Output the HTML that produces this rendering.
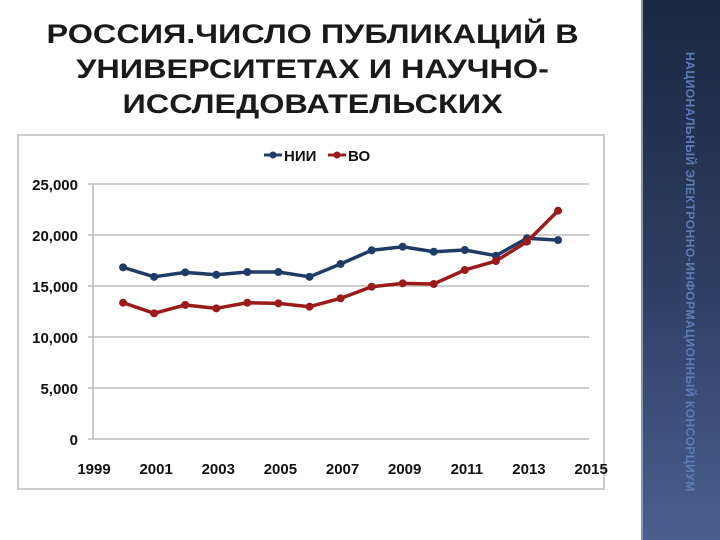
<!DOCTYPE html>
<html><head><meta charset="utf-8"><style>
body{margin:0;width:720px;height:540px;background:#fff;position:relative;overflow:hidden;font-family:"Liberation Sans",sans-serif}
#title{position:absolute;left:0;top:17px;width:625px;text-align:center;font-weight:bold;font-size:27px;line-height:35px;color:#1a1a1a;transform:scaleX(1.2);transform-origin:312px 0}
#side{position:absolute;left:641px;top:0;width:79px;height:540px;background:linear-gradient(180deg,#1a2740 0%,#2c3d62 50%,#4a5f8f 100%);border-left:2px solid #8a96b0}
#side span{position:absolute;left:40px;top:52px;writing-mode:vertical-rl;font-size:12px;font-weight:bold;color:#5d7bb5;white-space:nowrap;letter-spacing:0.5px}
</style></head><body>
<div id="title">РОССИЯ.ЧИСЛО ПУБЛИКАЦИЙ В<br>УНИВЕРСИТЕТАХ И НАУЧНО-<br>ИССЛЕДОВАТЕЛЬСКИХ</div>
<div id="side"><span>НАЦИОНАЛЬНЫЙ ЭЛЕКТРОННО-ИНФОРМАЦИОННЫЙ КОНСОРЦИУМ</span></div>
<svg id="chart" width="720" height="540" style="position:absolute;left:0;top:0"></svg>
<script>
const years=[2000,2001,2002,2003,2004,2005,2006,2007,2008,2009,2010,2011,2012,2013,2014];
const nii=[16830,15900,16340,16100,16370,16370,15900,17160,18500,18850,18360,18530,17970,19680,19500];
const vo=[13360,12320,13140,12810,13360,13300,12970,13790,14930,15260,15200,16570,17450,19340,22380];
const yTicks=[0,5000,10000,15000,20000,25000];
const xTicks=[1999,2001,2003,2005,2007,2009,2011,2013,2015];
const NS="http://www.w3.org/2000/svg";
const svg=document.getElementById('chart');
const X=v=>92+(v-1999)*31.07;
const Y=v=>439-v*(439-184)/25000;
function mk(t,a,p){const e=document.createElementNS(NS,t);for(const k in a)e.setAttribute(k,a[k]);(p||svg).appendChild(e);return e;}
const box=mk('rect',{x:18,y:135,width:586,height:354,fill:'#fff',stroke:'#bbb','stroke-width':1.5});


yTicks.forEach(v=>{
 if(v>0){const g=mk('line',{x1:88,x2:589,y1:Y(v),y2:Y(v),stroke:'#bdbdbd','stroke-width':1.5});
 
 }
 const t=mk('text',{x:78,y:Y(v)+6,'text-anchor':'end','font-size':15,'font-weight':'bold',fill:'#111'});
 t.textContent=v.toLocaleString('en-US');
 
 
});
const ax=mk('line',{x1:93,x2:93,y1:184,y2:439,stroke:'#bbb','stroke-width':1.5});


const bx=mk('line',{x1:88,x2:589,y1:439,y2:439,stroke:'#bbb','stroke-width':1.5});


xTicks.forEach(v=>{
 const t=mk('text',{x:X(v)+2,y:474,'text-anchor':'middle','font-size':15,'font-weight':'bold',fill:'#111'});
 t.textContent=v;
 
 
});
function series(vals,color,name){
 const g=mk('g',{});
 
 
 mk('polyline',{points:years.map((y,i)=>X(y)+','+Y(vals[i])).join(' '),fill:'none',stroke:color,'stroke-width':3.5,'stroke-linejoin':'round'},g);
 years.forEach((y,i)=>{const c=mk('circle',{cx:X(y),cy:Y(vals[i]),r:4,fill:color},g);
 
 });
}
series(nii,'#1f3c66','series-nii');
series(vo,'#9b1b1b','series-vo');
function leg(x,color,label){
 const g=mk('g',{});
 
 
 mk('line',{x1:x,x2:x+18,y1:155,y2:155,stroke:color,'stroke-width':3},g);
 mk('circle',{cx:x+9,cy:155,r:3.5,fill:color},g);
 const t=mk('text',{x:x+20,y:161,'font-size':15,'font-weight':'bold',fill:'#111'},g);t.textContent=label;
}
leg(264,'#1f3c66','НИИ');
leg(328,'#9b1b1b','ВО');
</script>
</body></html>
